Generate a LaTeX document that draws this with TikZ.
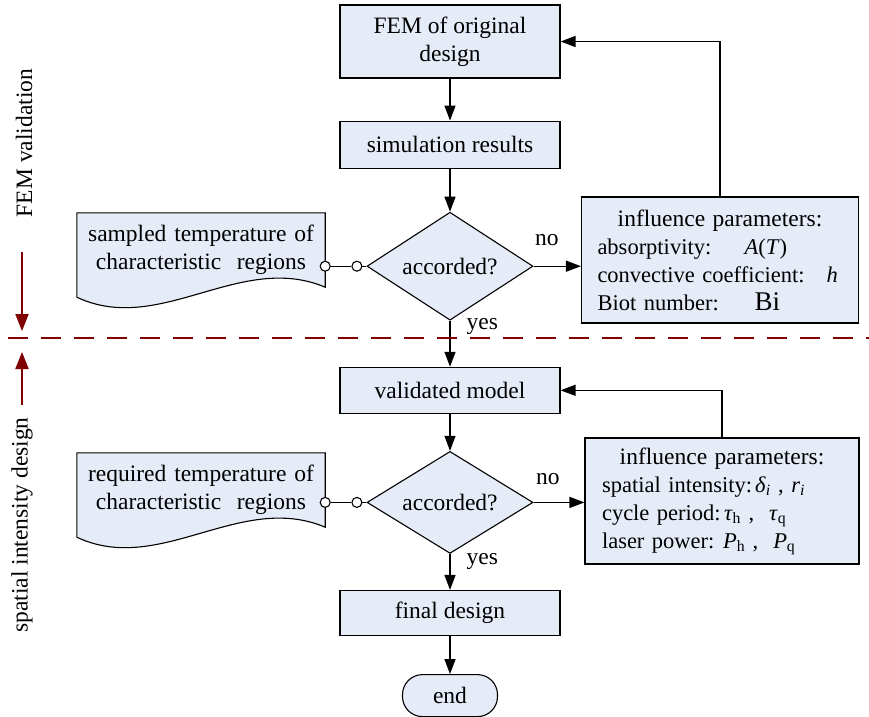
\documentclass[tikz,border=0pt]{standalone}
\usepackage{fontspec}
\setmainfont{Liberation Serif}
\usepackage{tikz}
\usetikzlibrary{shapes.geometric,positioning,arrows.meta,backgrounds}
\definecolor{boxfill}{RGB}{229,235,247}
\definecolor{sepred}{RGB}{128,0,0}
\tikzstyle{arrow} = [line width=1.3pt,-{Triangle[length=15pt,width=11pt]}]
\tikzset{
 b/.style
  = {rectangle, draw, fill=boxfill, minimum width=220pt, text centered, align=center, line width=1.1pt},
 dd/.style
  = {diamond, aspect=1.6, draw, fill=boxfill, minimum width=166pt, minimum height=108pt, inner sep=0pt, line width=1.1pt},
 docu/.style
  = {rectangle, minimum width=248pt, minimum height=74pt, text width=240pt, align=center, inner sep=0pt},
 pbox/.style
  = {rectangle, draw, fill=boxfill, minimum height=126pt, text width=245pt, inner xsep=16pt, align=left,
     line width=1.1pt, font=\fontsize{22.5}{28}\selectfont},
 term/.style
  = {rectangle, rounded corners=20pt, draw, fill=boxfill, minimum width=95pt, minimum height=42pt, line width=1.1pt},
 cc/.style
  = {circle, draw, fill=white, minimum size=10pt, inner sep=0pt, line width=1.1pt},
 lab/.style
  = {inner sep=2pt},
 redline/.style
  = {draw=sepred, line width=2pt, dash pattern=on 20pt off 13pt},
 ss/.style
  = {draw=sepred, line width=2pt, -{Triangle[length=17pt,width=13pt]}},
}
\newcommand{\headline}[1]{\makebox[#1]{\fontsize{23.5}{28}\selectfont influence parameters:}}

\begin{document}
\begin{tikzpicture}[x=1pt, y=1pt, font=\fontsize{23.5}{28}\selectfont]
    \useasboundingbox (0,0) rectangle (869,-716);

    \node [b, minimum height=73pt] (fem) at (450,-41.5) {FEM of original\\design};
    \node [b, minimum height=47pt, below=42pt of fem] (sim) {simulation results};
    \node [dd, below=43pt of sim] (dia1) {accorded?};
    \node [b, minimum height=46pt, below=46pt of dia1] (valid) {validated model};
    \node [dd, minimum height=102pt, below=37pt of valid] (dia2) {accorded?};
    \node [b, minimum height=45pt, below=36pt of dia2] (final) {final design};
    \node [term, below=38pt of final] (stop) {end};

    \node [docu] (doc1) at (201,-250) {sampled temperature of\\characteristic\ \ regions};
    \node [docu] (doc2) at (201,-490) {required temperature of\\characteristic\ \ regions};

    \node [pbox] (par1) at (720,-260) {\headline{245pt}\\
      \makebox[147pt][l]{absorptivity:}\textit{A}(\textit{T})\\
      \makebox[229pt][l]{convective coefficient:}\textit{h}\\
      \makebox[157pt][l]{Biot number:}{\fontsize{27}{28}\selectfont Bi}};
    \node [pbox, text width=240pt, inner xsep=17pt] (par2) at (722,-501) {\headline{240pt}\\
      \makebox[153pt][l]{spatial intensity:}\textit{δ}\textsubscript{\textit{i}}\ , \textit{r}\textsubscript{\textit{i}}\\
      \makebox[122pt][l]{cycle period:}\textit{τ}\textsubscript{h}\ , \ \textit{τ}\textsubscript{q}\\
      \makebox[121pt][l]{laser power:}\textit{P}\textsubscript{h}\ , \ \textit{P}\textsubscript{q}};

    \begin{scope}[on background layer]
      \foreach \n in {doc1,doc2}
        \draw [fill=boxfill, line width=1.1pt] (\n.north west) -- (\n.north east) -- (\n.south east)
          .. controls +(-85,36) and +(83,-39) .. ([yshift=-10pt]\n.south west) -- cycle;
    \end{scope}

    \node [cc] (o1) at (dia1.west -| doc1.east) {};
    \node [cc, left=4pt of dia1.west] (o2) {};
    \draw [line width=1.1pt] (o1) -- (o2) -- (dia1.west);
    \node [cc] (o3) at (dia2.west -| doc2.east) {};
    \node [cc, left=4pt of dia2.west] (o4) {};
    \draw [line width=1.1pt] (o3) -- (o4) -- (dia2.west);

    \draw [arrow] (fem) -- (sim);
    \draw [arrow] (sim) -- (dia1);
    \draw [arrow] (dia1) -- node[lab, right=14pt, pos=.12] {yes} (valid);
    \draw [arrow] (dia1.east) -- node[lab, above=18pt, pos=.28] {no} (dia1.east -| par1.west);
    \draw [arrow] (par1.north) |- (fem.east);
    \draw [arrow] (valid) -- (dia2);
    \draw [arrow] (dia2) -- node[lab, right=14pt, pos=.2] {yes} (final);
    \draw [arrow] (dia2.east) -- node[lab, above=15pt, pos=.28] {no} (dia2.east -| par2.west);
    \draw [arrow] (par2.north) |- (valid.east);
    \draw [arrow] (final) -- (stop);

    \coordinate (sl) at (8,-338);
    \coordinate (sr) at (869,-338);
    \draw [redline] (sl) -- (sr);
    \coordinate (u1) at (22,-252);
    \coordinate (u2) at (22,-331);
    \coordinate (w1) at (22,-405);
    \coordinate (w2) at (22,-352);
    \draw [ss] (u1) -- (u2);
    \draw [ss] (w1) -- (w2);
    \node [rotate=90] (lab1) at (24,-143) {FEM validation};
    \node [rotate=90] (lab2) at (22,-525) {spatial intensity design};
\end{tikzpicture}
\end{document}
